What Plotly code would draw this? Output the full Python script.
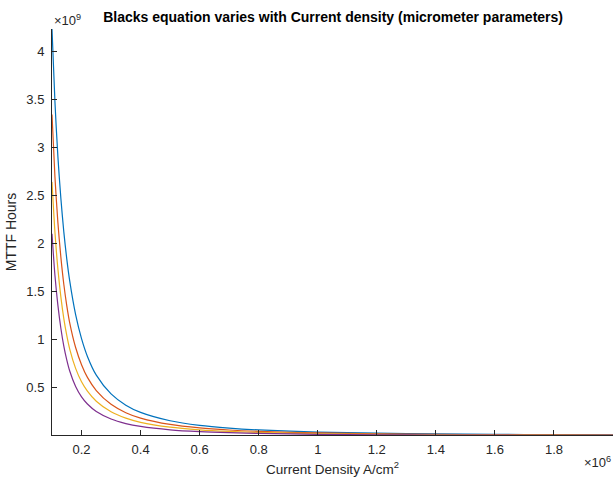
import plotly.graph_objects as go

# Current density (x 1e6 A/cm^2)
J = [0.10, 0.11, 0.12, 0.13, 0.14, 0.15, 0.16, 0.18, 0.20, 0.22, 0.25, 0.30, 0.35, 0.40,
     0.50, 0.60, 0.70, 0.80, 1.00, 1.20, 1.40, 1.60, 1.80, 2.00]

# MTTF (x 1e9 hours)
blue = [4.23, 3.47, 2.90, 2.47, 2.12, 1.84, 1.61, 1.26, 1.01, 0.825, 0.63, 0.435, 0.318, 0.243,
        0.156, 0.108, 0.0795, 0.0608, 0.0389, 0.027, 0.0199, 0.0152, 0.012, 0.0097]
red = [3.34, 2.691, 2.215, 1.858, 1.576, 1.354, 1.174, 0.9175, 0.739, 0.607, 0.470, 0.327, 0.240, 0.184,
       0.1176, 0.0816, 0.060, 0.0459, 0.0294, 0.0204, 0.015, 0.0115, 0.0091, 0.0074]
yellow = [2.64, 2.116, 1.733, 1.445, 1.219, 1.044, 0.902, 0.701, 0.561, 0.464, 0.359, 0.249, 0.183, 0.140,
          0.0898, 0.0623, 0.0458, 0.0351, 0.0224, 0.0156, 0.0115, 0.0088, 0.0069, 0.0056]
purple = [2.10, 1.666, 1.356, 1.118, 0.932, 0.789, 0.673, 0.512, 0.404, 0.330, 0.252, 0.174, 0.127, 0.0971,
          0.0622, 0.0432, 0.0317, 0.0243, 0.0155, 0.0108, 0.0079, 0.0061, 0.0048, 0.0039]

series = [("blue", blue, "#0072BD"), ("red", red, "#D95319"),
          ("yellow", yellow, "#EDB120"), ("purple", purple, "#7E2F8E")]

xticks = [0.2, 0.4, 0.6, 0.8, 1.0, 1.2, 1.4, 1.6, 1.8]
xticklabels = ["0.2", "0.4", "0.6", "0.8", "1", "1.2", "1.4", "1.6", "1.8"]
yticks = [0.5, 1.0, 1.5, 2.0, 2.5, 3.0, 3.5, 4.0]
yticklabels = ["0.5", "1", "1.5", "2", "2.5", "3", "3.5", "4"]

fig = go.Figure()
for name, vals, col in series:
    fig.add_trace(go.Scatter(
        x=[v * 1e6 for v in J], y=[v * 1e9 for v in vals], mode="lines",
        line=dict(color=col, width=1.2, shape="spline", smoothing=0.8),
        name=name, showlegend=False))

FONT = "Liberation Sans, Arial, sans-serif"
tickfont = dict(family=FONT, size=13, color="#262626")
fig.update_layout(
    width=614, height=481,
    margin=dict(l=52, r=1, t=29, b=46),
    paper_bgcolor="white", plot_bgcolor="white",
    font=dict(family=FONT, size=13, color="#262626"),
    title=dict(text="<b>Blacks equation varies with Current density (micrometer parameters)</b>",
               x=0.5425, xanchor="center", y=0.9647, yanchor="middle",
               font=dict(size=14, color="#000000")),
    xaxis=dict(range=[0.1e6, 2.0e6], tickvals=[v * 1e6 for v in xticks], ticktext=xticklabels,
               ticks="inside", ticklen=5, tickcolor="#262626", showline=True, linecolor="#262626",
               linewidth=1, showgrid=False, zeroline=False, tickfont=tickfont,
               ticklabelstandoff=2,
               title=dict(text="Current Density A/cm<sup>2</sup>", standoff=8,
                          font=dict(size=13.5, color="#262626"))),
    yaxis=dict(range=[0.008e9, 4.23e9], tickvals=[v * 1e9 for v in yticks], ticktext=yticklabels,
               ticks="inside", ticklen=5, tickcolor="#262626", showline=True, linecolor="#262626",
               linewidth=1, showgrid=False, zeroline=False, tickfont=tickfont,
               ticklabelstandoff=4,
               title=dict(text="MTTF Hours", standoff=6,
                          font=dict(size=14, color="#262626"))),
)
fig.add_annotation(text="\u00d710<sup>9</sup>", xref="paper", yref="paper", x=0.0, y=1.0,
                   xanchor="left", yanchor="bottom", showarrow=False, yshift=-1,
                   font=dict(size=13, color="#262626"))
fig.add_annotation(text="\u00d710<sup>6</sup>", xref="paper", yref="paper", x=1.0, y=0.0,
                   xanchor="right", yanchor="top", showarrow=False, yshift=-17,
                   font=dict(size=13, color="#262626"))

fig.write_html("out.html")
